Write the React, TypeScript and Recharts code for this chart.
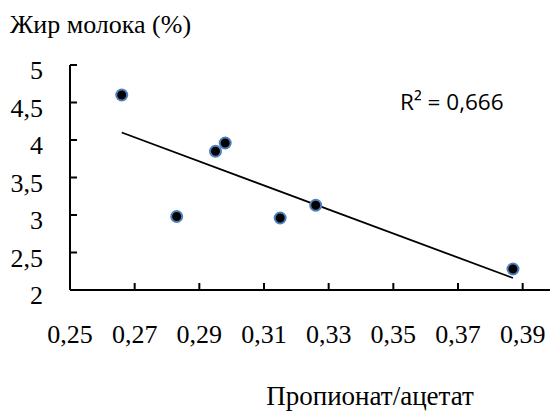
import { ScatterChart, Scatter, XAxis, YAxis } from "recharts";

// propionate/acetate ratio vs milk fat (%)
const ratio = [0.266, 0.283, 0.295, 0.298, 0.315, 0.326, 0.387];
const milkFat = [4.6, 2.98, 3.85, 3.96, 2.96, 3.13, 2.28];

// linear trendline end points
const trendX = [0.266, 0.387];
const trendY = [4.1, 2.16];

const xTicks = [0.25, 0.27, 0.29, 0.31, 0.33, 0.35, 0.37, 0.39];
const yTicks = [2, 2.5, 3, 3.5, 4, 4.5, 5];

const rSquared = "R² = 0,666";
const yTitle = "Жир молока (%)";
const xTitle = "Пропионат/ацетат";

const points = ratio.map((x, i) => ({ x, y: milkFat[i] }));
const trend = trendX.map((x, i) => ({ x, y: trendY[i] }));

const serif = "Liberation Serif";
const comma = (v: number) => String(v).replace(".", ",");

const Marker = (props: any) => (
  <circle
    cx={props.cx}
    cy={props.cy}
    r={5.5}
    fill="#000"
    stroke="#4f81bd"
    strokeWidth={2}
  />
);

export default function App() {
  return (
    <div
      style={{
        position: "absolute",
        left: 0,
        top: 0,
        width: 550,
        height: 412,
        overflow: "hidden",
        background: "#fff",
      }}
    >
      <ScatterChart
        width={560}
        height={412}
        margin={{ top: 65, right: 5, bottom: 62, left: 0 }}
        style={{ fontFamily: serif }}
      >
        <XAxis
          type="number"
          dataKey="x"
          domain={[0.25, 0.4]}
          ticks={xTicks}
          tickFormatter={(v: number) => v.toFixed(2).replace(".", ",")}
          height={60}
          tickSize={-7}
          tickMargin={42}
          axisLine={{ stroke: "#000", strokeWidth: 2 }}
          tickLine={{ stroke: "#000", strokeWidth: 2 }}
          tick={{ fill: "#000", fontSize: 26, fontFamily: serif }}
          interval={0}
        />
        <YAxis
          type="number"
          dataKey="y"
          domain={[2, 5]}
          ticks={yTicks}
          tickFormatter={comma}
          width={70}
          tickSize={-7}
          tickMargin={34}
          axisLine={{ stroke: "#000", strokeWidth: 2 }}
          tickLine={{ stroke: "#000", strokeWidth: 2 }}
          tick={{ fill: "#000", fontSize: 26, fontFamily: serif, dy: 5 }}
          interval={0}
        />
        <Scatter
          data={trend}
          line={{ stroke: "#000", strokeWidth: 1.8 }}
          shape={() => null}
          isAnimationActive={false}
        />
        <Scatter data={points} shape={<Marker />} isAnimationActive={false} />
      </ScatterChart>
      <svg
        width={550}
        height={412}
        style={{ position: "absolute", left: 0, top: 0, pointerEvents: "none" }}
      >
        <text x={10} y={33} style={{ fontFamily: serif, fontSize: 26 }} fill="#000">
          {yTitle}
        </text>
        <text
          x={370}
          y={405}
          style={{ fontFamily: serif, fontSize: 27 }}
          fill="#000"
          textAnchor="middle"
        >
          {xTitle}
        </text>
        <text
          x={400}
          y={110}
          style={{ fontFamily: "Open Sans", fontSize: 22.5 }}
          fill="#000"
        >
          {rSquared}
        </text>
      </svg>
    </div>
  );
}
